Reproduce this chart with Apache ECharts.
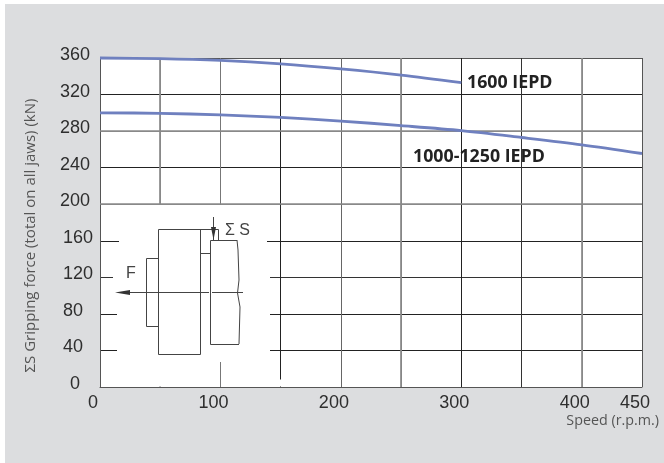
<!DOCTYPE html>
<html>
<head>
<meta charset="utf-8">
<style>
html,body{margin:0;padding:0;background:#fff;}
#panel{position:absolute;left:5px;top:4px;width:659px;height:459px;background:#dcdddf;}
#chart{position:absolute;left:0;top:0;width:664px;height:463px;}
</style>
<script src="https://cdn.jsdelivr.net/npm/echarts@6/dist/echarts.min.js"></script>
</head>
<body>
<div id="panel"></div>
<div id="chart"></div>
<script>
const speedsUpper = [0, 50, 100, 150, 200, 250, 300];
const force1600 = [360, 359.3, 357.3, 353.5, 348, 341.3, 333];
const speedsLower = [0, 50, 100, 150, 200, 250, 300, 350, 400, 450];
const force1000 = [300, 299.5, 297.7, 295, 291, 286, 280.5, 273, 265, 255.5];
const xTickLabels = [0, 100, 200, 300, 400, 450];
const heavyX = [50, 250, 400];
const heavyY = [200, 280];
const seriesNames = ['1600 IEPD', '1000-1250 IEPD'];
const xTitle = 'Speed (r.p.m.)';
const yTitle = '\u03A3S Gripping force (total on all jaws) (kN)';

const pairs = (xs, ys) => xs.map((x, i) => [x, ys[i]]);
const INK = '#444';
const TICK = '#2e2e2e';
const ln = (x1, y1, x2, y2) => ({type:'line', z:101, silent:true,
  shape:{x1, y1, x2, y2}, style:{stroke:INK, lineWidth:1}});
const box = (x, y, width, height) => ({type:'rect', z:101, silent:true,
  shape:{x, y, width, height}, style:{fill:'transparent', stroke:INK, lineWidth:1}});
const mask = (x, y, width, height) => ({type:'rect', z:100, silent:true,
  shape:{x, y, width, height}, style:{fill:'#fff'}});
const tri = (points) => ({type:'polygon', z:102, silent:true,
  shape:{points}, style:{fill:'#333'}});
const txt = (x, y, text, font, fill, align) => ({type:'text', z:103, silent:true, x, y,
  style:{text, font, fill, align:align || 'left', verticalAlign:'middle'}});

const chart = echarts.init(document.getElementById('chart'), null, {renderer:'canvas'});
chart.setOption({
  backgroundColor:'transparent',
  animation:false,
  grid:{left:100, right:22, top:58, bottom:76, show:true, backgroundColor:'#fff', borderWidth:0},
  xAxis:{
    type:'value', min:0, max:450, interval:50,
    name:xTitle, nameLocation:'end', nameGap:17,
    nameTextStyle:{fontFamily:'Open Sans', fontSize:14.3, color:'#555', align:'right', verticalAlign:'top', padding:[27,0,0,0]},
    axisLine:{show:true, lineStyle:{color:'#555', width:1}},
    axisTick:{show:false},
    axisLabel:{
      margin:7, fontFamily:'Liberation Sans', fontSize:18, color:TICK,
      padding:[0,14,0,0],
      formatter:(v) => xTickLabels.includes(v) ? String(v) : ''
    },
    splitLine:{show:true, lineStyle:{width:1, color:['#555','#8a8a8a','#777','#222','#666','#777','#222','#333','#888','#555']}}
  },
  yAxis:{
    type:'value', min:0, max:360, interval:40,
    name:yTitle, nameLocation:'middle', nameRotate:90, nameGap:62,
    nameTextStyle:{fontFamily:'Open Sans', fontSize:15, color:'#555', padding:[0,26,0,0]},
    axisLine:{show:true, onZero:false, lineStyle:{color:'#555', width:1}},
    axisTick:{show:false},
    axisLabel:{
      margin:7, fontFamily:'Liberation Sans', fontSize:18, color:TICK,
      formatter:(v) => {
        if (v === 0) return '{d|0}';
        if (v === 40 || v === 80) return '{c|' + v + '}';
        if (v === 120 || v === 160) return '{b|' + v + '}';
        return '{a|' + v + '}';
      },
      rich:{
        a:{fontFamily:'Liberation Sans', fontSize:18, color:TICK, padding:[0,3,6,0]},
        b:{fontFamily:'Liberation Sans', fontSize:18, color:TICK, padding:[0,0,6,0]},
        c:{fontFamily:'Liberation Sans', fontSize:18, color:TICK, padding:[0,10,6,0]},
        d:{fontFamily:'Liberation Sans', fontSize:18, color:TICK, padding:[0,13,6,0]}
      }
    },
    splitLine:{show:true, lineStyle:{width:1, color:['#555','#222','#222','#333','#222','#888','#222','#888','#222','#555']}}
  },
  series:[
    {name:seriesNames[0], type:'line', data:pairs(speedsUpper, force1600), smooth:0.3, symbol:'none', z:5, clip:false,
     lineStyle:{color:'#6f80bf', width:2.8},
     markLine:{silent:true, symbol:'none', label:{show:false}, z:3,
       lineStyle:{type:'solid', color:'#8a8a8a', width:1.7},
       data:heavyX.map(v => ({xAxis:v})).concat(heavyY.map(v => ({yAxis:v})))}},
    {name:seriesNames[1], type:'line', data:pairs(speedsLower, force1000), smooth:0.3, symbol:'none', z:5, clip:false,
     lineStyle:{color:'#6f80bf', width:2.8}}
  ],
  graphic:[
    mask(119,205,148,157), mask(113,270,6,15), mask(117,305,2,50), mask(267,270,3,85),
    mask(150,362,50,24.4), mask(278,379.5,6,7),
    box(158.5,229.5,42,125), box(146.5,258.5,12,68),
    ln(210.5,240.5,210.5,344.5), ln(210.5,240.5,237,240.5), ln(210.5,344.5,239,344.5),
    {type:'polyline', z:101, silent:true,
     shape:{points:[[237,240],[238,250],[239,280],[237.5,293],[240,307],[239,344]]},
     style:{stroke:INK, lineWidth:1, fill:'none'}},
    ln(200,253.5,210,253.5),
    ln(200,229.5,218.5,229.5), ln(218.5,229.5,218.5,240),
    ln(213.5,217,213.5,240), tri([[211,227],[216,227],[213.5,240]]),
    ln(128,292.5,209,292.5), ln(212,292.5,243,292.5), tri([[115,292.5],[130,290],[130,295]]),
    txt(131,274,'F','16px "Liberation Sans"','#444','center'),
    txt(225,231,'\u03A3 S','16px "Liberation Sans"','#444'),
    txt(467,83,seriesNames[0],'700 17.8px "Open Sans"','#222'),
    txt(413,157,seriesNames[1],'700 17.8px "Open Sans"','#222')
  ]
});
</script>
</body>
</html>
